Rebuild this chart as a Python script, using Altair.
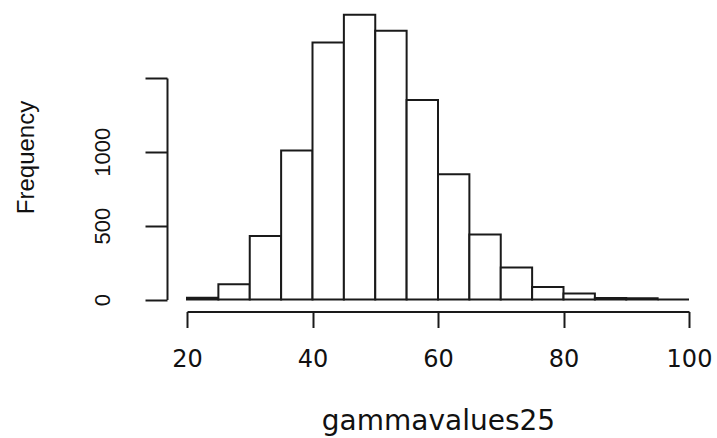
import altair as alt
import pandas as pd

bin_starts = [20, 25, 30, 35, 40, 45, 50, 55, 60, 65, 70, 75, 80, 85, 90, 95]
bin_ends = [25, 30, 35, 40, 45, 50, 55, 60, 65, 70, 75, 80, 85, 90, 95, 100]
counts = [12, 103, 430, 1009, 1741, 1928, 1820, 1351, 849, 441, 216, 85, 40, 11, 9, 0]
x_ticks = [20, 40, 60, 80, 100]
y_ticks = [0, 500, 1000, 1500]

df = pd.DataFrame({"start": bin_starts, "end": bin_ends, "count": counts})

chart = alt.Chart(df).mark_rect(
    fill="white", stroke="#1a1a1a", strokeWidth=2, clip=False
).encode(
    x=alt.X("start:Q",
            scale=alt.Scale(domain=[20, 100], nice=False, zero=False),
            axis=alt.Axis(values=x_ticks, title="gammavalues25", grid=False, format="d",
                          offset=12, tickSize=16, tickWidth=2, domainWidth=2,
                          domainColor="#1a1a1a", tickColor="#1a1a1a",
                          labelFont="DejaVu Sans", labelFontSize=24, labelColor="#111",
                          labelPadding=20, labelBaseline="top", labelAlign="center",
                          labelFlush=False, labelOverlap=False,
                          titleFont="DejaVu Sans", titleFontSize=28, titleFontWeight="normal",
                          titleColor="#111", titleBaseline="alphabetic", titleY=118)),
    x2="end:Q",
    y=alt.Y("count:Q",
            scale=alt.Scale(domain=[0, 1500], nice=False),
            axis=alt.Axis(values=y_ticks, title="Frequency", grid=False, format="d",
                          offset=20, tickSize=22, tickWidth=2, domainWidth=2,
                          domainColor="#1a1a1a", tickColor="#1a1a1a",
                          labelExpr="datum.value == 1500 ? '' : datum.label",
                          labelFont="Liberation Sans", labelFontSize=22, labelColor="#111",
                          labelAngle=270, labelAlign="center", labelBaseline="alphabetic",
                          labelPadding=36, labelFlush=False, labelOverlap=False,
                          titleFont="Liberation Sans", titleFontSize=24, titleFontWeight="normal",
                          titleColor="#111", titleAngle=270, titleBaseline="middle",
                          titleX=-141, titleY=79)),
    y2=alt.datum(0),
).properties(
    width=502, height=221.5,
    background="white",
    autosize=alt.AutoSizeParams(type="none"),
    padding={"left": 187, "top": 78, "right": 28, "bottom": 138},
).configure_view(stroke=None, strokeWidth=0)

chart.save("out.html", embed_options={"renderer": "svg", "actions": False})
